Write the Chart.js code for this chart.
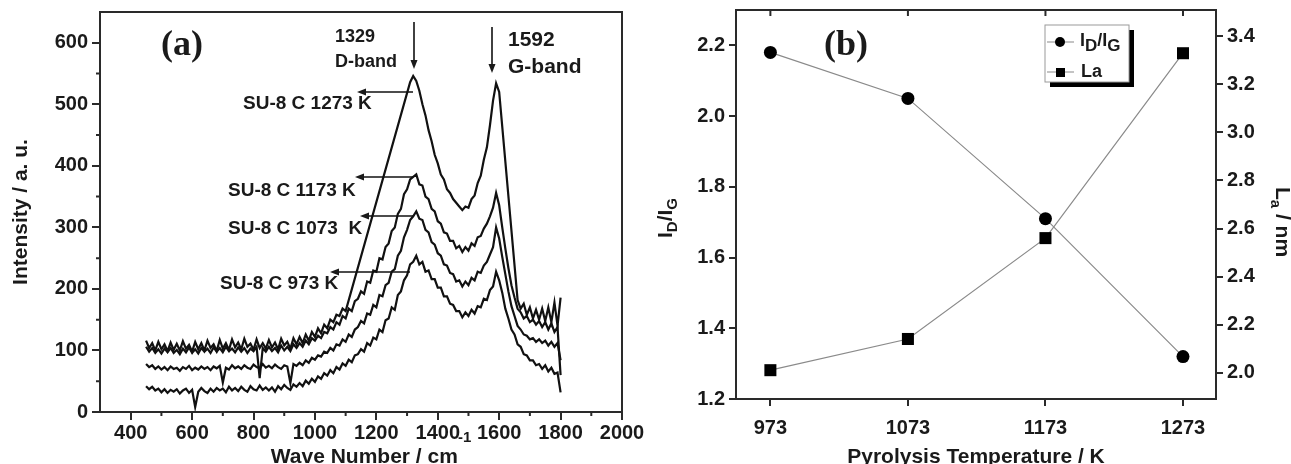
<!DOCTYPE html>
<html>
<head>
<meta charset="utf-8">
<script src="https://cdn.jsdelivr.net/npm/chart.js@4.4.1/dist/chart.umd.min.js"></script>
<style>
  html, body { margin: 0; padding: 0; background: #fff; }
  #wrap { position: relative; width: 1291px; height: 464px; overflow: hidden; }
  canvas { position: absolute; top: 0; }
</style>
</head>
<body>
<div id="wrap">
  <canvas id="chartA" width="670" height="464" style="left:0px"></canvas>
  <canvas id="chartB" width="651" height="464" style="left:640px"></canvas>
</div>
<script>
// ---- panel (a): Raman spectra ----
const waveNumbers = [
  450, 460, 470, 480, 490, 500, 510, 520, 530, 540,
  550, 560, 570, 580, 590, 600, 610, 620, 630, 640,
  650, 660, 670, 680, 690, 700, 710, 720, 730, 740,
  750, 760, 770, 780, 790, 800, 810, 820, 830, 840,
  850, 860, 870, 880, 890, 900, 910, 920, 930, 940,
  950, 960, 970, 980, 990, 1000, 1010, 1020, 1030, 1040,
  1050, 1060, 1070, 1080, 1090, 1100, 1110, 1120, 1130, 1140,
  1150, 1160, 1170, 1180, 1190, 1200, 1210, 1220, 1230, 1240,
  1250, 1260, 1270, 1280, 1290, 1300, 1310, 1320, 1330, 1340,
  1350, 1360, 1370, 1380, 1390, 1400, 1410, 1420, 1430, 1440,
  1450, 1460, 1470, 1480, 1490, 1500, 1510, 1520, 1530, 1540,
  1550, 1560, 1570, 1580, 1590, 1600, 1610, 1620, 1630, 1640,
  1650, 1660, 1670, 1680, 1690, 1700, 1710, 1720, 1730, 1740,
  1750, 1760, 1770, 1780, 1790, 1800,
];

const intensity973 = [
  42, 37, 41, 35, 38, 32, 37, 31, 36, 33,
  37, 30, 35, 38, 31, 36, 8, 33, 39, 34,
  31, 38, 33, 39, 35, 38, 32, 41, 35, 39,
  34, 41, 36, 33, 42, 37, 35, 43, 36, 40,
  35, 40, 33, 42, 37, 44, 39, 36, 45, 41,
  47, 42, 51, 46, 54, 49, 58, 54, 63, 59,
  68, 63, 73, 69, 79, 75, 85, 81, 92, 94,
  102, 98, 112, 108, 121, 118, 134, 130, 149, 152,
  170, 166, 190, 196, 214, 222, 240, 244, 254, 240,
  244, 228, 230, 216, 216, 202, 202, 188, 188, 176,
  174, 164, 164, 154, 162, 156, 166, 160, 172, 170,
  184, 182, 198, 204, 228, 214, 194, 168, 152, 134,
  126, 110, 106, 94, 92, 84, 84, 76, 78, 70,
  76, 66, 72, 62, 64, 32,
];

const intensity1073 = [
  78, 73, 76, 70, 74, 69, 73, 68, 74, 70,
  72, 67, 73, 70, 75, 68, 72, 69, 74, 70,
  73, 68, 74, 71, 75, 48, 72, 69, 76, 71,
  74, 70, 76, 72, 70, 77, 73, 71, 78, 72,
  75, 71, 77, 73, 70, 76, 74, 47, 78, 75,
  80, 76, 84, 80, 88, 85, 92, 90, 98, 96,
  104, 100, 110, 108, 118, 114, 126, 122, 134, 138,
  148, 144, 160, 158, 174, 170, 190, 188, 206, 210,
  228, 232, 254, 262, 284, 296, 312, 318, 326, 314,
  312, 296, 292, 276, 272, 258, 254, 240, 238, 226,
  224, 212, 214, 204, 212, 206, 218, 214, 228, 226,
  238, 244, 256, 268, 300, 282, 252, 224, 196, 172,
  156, 140, 134, 126, 124, 118, 120, 114, 118, 112,
  116, 108, 114, 106, 112, 84,
];

const intensity1173 = [
  106, 98, 104, 96, 102, 95, 103, 97, 104, 96,
  101, 94, 103, 97, 105, 96, 102, 95, 104, 98,
  103, 96, 105, 98, 104, 97, 106, 99, 103, 97,
  105, 98, 104, 96, 103, 99, 106, 55, 104, 98,
  106, 99, 104, 97, 108, 100, 106, 99, 110, 104,
  112, 106, 116, 110, 120, 116, 124, 120, 130, 128,
  138, 134, 146, 142, 156, 152, 168, 164, 180, 184,
  196, 192, 212, 210, 230, 228, 250, 248, 268, 274,
  294, 300, 322, 330, 354, 362, 378, 382, 386, 370,
  368, 350, 346, 330, 326, 310, 306, 292, 290, 278,
  278, 266, 270, 260, 268, 262, 274, 270, 284, 286,
  298, 306, 318, 332, 356, 336, 300, 266, 234, 206,
  186, 168, 162, 152, 156, 146, 150, 142, 148, 138,
  146, 134, 144, 130, 138, 60,
];

// the 1273 K trace is drawn with straight segments on the peak flanks
const intensity1273 = [
  116, 104, 112, 100, 114, 102, 110, 99, 113, 101,
  111, 100, 115, 103, 109, 98, 114, 102, 112, 100,
  116, 104, 110, 99, 117, 103, 112, 101, 118, 105,
  113, 102, 119, 106, 111, 101, 118, 104, 112, 103,
  117, 105, 113, 102, 119, 108, 114, 103, 120, 110,
  122, 112, 126, 116, 130, 122, 136, 128, 142, 136,
  150, 146, 158, 156, 168, 164, null, null, null, null,
  null, null, null, null, null, null, null, null, null, null,
  null, null, null, null, null, null, 536, 546, 538, 522,
  500, 482, 458, 440, 418, 404, 386, 378, 362, 356,
  346, 340, 334, 328, 334, 332, 346, 352, 372, 384,
  410, 430, 466, 506, 534, 520, null, null, null, null,
  null, 182, 168, 176, 158, 170, 152, 166, 150, 168,
  148, 170, 146, 178, 140, 186,
];

const waveTicks = [400, 600, 800, 1000, 1200, 1400, 1600, 1800, 2000];
const waveMinorTicks = [500, 700, 900, 1100, 1300, 1500, 1700, 1900];
const intensityTicks = [0, 100, 200, 300, 400, 500, 600];
const intensityMinorTicks = [50, 150, 250, 350, 450, 550];

// ---- panel (b): ID/IG and La vs pyrolysis temperature ----
const temperatures = [973, 1073, 1173, 1273];
const ratioIDIG = [2.18, 2.05, 1.71, 1.32];
const crystalliteLa = [2.01, 2.14, 2.56, 3.33];
const ratioTicks = [1.2, 1.4, 1.6, 1.8, 2.0, 2.2];
const laTicks = [2.0, 2.2, 2.4, 2.6, 2.8, 3.0, 3.2, 3.4];

const SANS = "'Liberation Sans', Arial, sans-serif";
const SERIF = "'Liberation Serif', 'Times New Roman', serif";
const INK = '#1a1a1a';
const AXIS = '#2a2a2a';

Chart.defaults.font.family = SANS;
Chart.defaults.color = INK;

function toPoints(xs, ys) {
  return xs.map((x, i) => ({ x: x, y: ys[i] }));
}

function fixedTicks(list) {
  return (scale) => {
    scale.ticks = list.map((v) => ({ value: v }));
  };
}

function richText(ctx, parts, x, y, align) {
  let total = 0;
  parts.forEach((p) => {
    ctx.font = p.font;
    p.w = ctx.measureText(p.text).width;
    total += p.w;
  });
  let cx = align === 'center' ? x - total / 2 : x;
  ctx.textAlign = 'left';
  ctx.textBaseline = 'alphabetic';
  parts.forEach((p) => {
    ctx.font = p.font;
    ctx.fillText(p.text, cx, y + (p.dy || 0));
    cx += p.w;
  });
}

function arrow(ctx, x1, y1, x2, y2) {
  const ang = Math.atan2(y2 - y1, x2 - x1);
  const len = 9;
  const half = 3.5;
  ctx.beginPath();
  ctx.moveTo(x1, y1);
  ctx.lineTo(x2 - Math.cos(ang) * len * 0.6, y2 - Math.sin(ang) * len * 0.6);
  ctx.stroke();
  ctx.beginPath();
  ctx.moveTo(x2, y2);
  ctx.lineTo(x2 - Math.cos(ang) * len - Math.sin(ang) * half, y2 - Math.sin(ang) * len + Math.cos(ang) * half);
  ctx.lineTo(x2 - Math.cos(ang) * len + Math.sin(ang) * half, y2 - Math.sin(ang) * len - Math.cos(ang) * half);
  ctx.closePath();
  ctx.fill();
}

function frame(chart) {
  const { ctx, chartArea: { left, top, right, bottom } } = chart;
  ctx.save();
  ctx.strokeStyle = AXIS;
  ctx.lineWidth = 2;
  ctx.strokeRect(left, top, right - left, bottom - top);
  ctx.restore();
}

const spectraDecor = {
  id: 'spectraDecor',
  afterDraw(chart) {
    const { ctx, chartArea: { left, bottom }, scales: { x, y } } = chart;
    frame(chart);
    ctx.save();
    // minor ticks
    ctx.strokeStyle = AXIS;
    ctx.lineWidth = 2;
    ctx.beginPath();
    waveMinorTicks.forEach((v) => {
      const px = x.getPixelForValue(v);
      ctx.moveTo(px, bottom);
      ctx.lineTo(px, bottom + 4);
    });
    intensityMinorTicks.forEach((v) => {
      const py = y.getPixelForValue(v);
      ctx.moveTo(left, py);
      ctx.lineTo(left - 4, py);
    });
    ctx.stroke();

    ctx.fillStyle = INK;
    ctx.strokeStyle = '#111';
    ctx.lineWidth = 1.6;

    // panel letter
    ctx.font = 'bold 36px ' + SERIF;
    ctx.textAlign = 'center';
    ctx.textBaseline = 'middle';
    ctx.fillText('(a)', 182, 46);

    // band labels
    ctx.textAlign = 'left';
    ctx.font = 'bold 18px ' + SANS;
    ctx.fillText('1329', 335, 37);
    ctx.fillText('D-band', 335, 62);
    ctx.font = 'bold 21px ' + SANS;
    ctx.fillText('1592', 508, 40);
    ctx.fillText('G-band', 508, 67);
    arrow(ctx, 414, 22, 414, 69);
    arrow(ctx, 492, 27, 492, 73);

    // sample labels
    ctx.font = 'bold 19px ' + SANS;
    ctx.textBaseline = 'middle';
    ctx.fillText('SU-8 C 1273 K', 243, 104);
    ctx.fillText('SU-8 C 1173 K', 228, 191);
    ctx.fillText('SU-8 C 1073  K', 228, 229);
    ctx.fillText('SU-8 C 973 K', 220, 284);
    ctx.lineWidth = 1.4;
    arrow(ctx, 413, 92, 357, 92);
    arrow(ctx, 413, 177, 355, 177);
    arrow(ctx, 413, 216, 360, 216);
    arrow(ctx, 410, 272, 330, 272);

    // x title with superscript
    richText(ctx, [
      { text: 'Wave Number / cm', font: 'bold 21px ' + SANS },
      { text: '-1', font: 'bold 15px ' + SANS, dy: -21 },
    ], 371, 463, 'center');
    ctx.restore();
  },
};

const spectraFont = { size: 20, weight: 'bold' };

const configA = {
  type: 'line',
  data: {
    datasets: [
      { label: 'SU-8 C 973 K', data: toPoints(waveNumbers, intensity973) },
      { label: 'SU-8 C 1073 K', data: toPoints(waveNumbers, intensity1073) },
      { label: 'SU-8 C 1173 K', data: toPoints(waveNumbers, intensity1173) },
      { label: 'SU-8 C 1273 K', data: toPoints(waveNumbers, intensity1273), spanGaps: true },
    ].map((d) => Object.assign({
      borderColor: '#111',
      borderWidth: 2.2,
      pointRadius: 0,
      tension: 0,
      fill: false,
    }, d)),
  },
  options: {
    responsive: false,
    animation: false,
    events: [],
    layout: { padding: { left: 0, right: 48, top: 12, bottom: 0 } },
    plugins: { legend: { display: false }, tooltip: { enabled: false } },
    scales: {
      x: {
        type: 'linear',
        min: 300,
        max: 2000,
        afterBuildTicks: fixedTicks(waveTicks),
        afterFit(scale) {
          scale.height = 52;
          scale.paddingLeft = 0;
          scale.paddingRight = 0;
        },
        grid: { drawOnChartArea: false, tickLength: 8, color: AXIS, lineWidth: 2 },
        border: { color: AXIS, width: 2 },
        ticks: { font: spectraFont, color: INK, padding: 1, maxRotation: 0, autoSkip: false, callback: (v) => String(v) },
      },
      y: {
        type: 'linear',
        min: 0,
        max: 650,
        afterBuildTicks: fixedTicks(intensityTicks),
        afterFit(scale) {
          scale.width = 100;
          scale.paddingTop = 0;
          scale.paddingBottom = 0;
        },
        grid: { drawOnChartArea: false, tickLength: 8, color: AXIS, lineWidth: 2 },
        border: { color: AXIS, width: 2 },
        ticks: { font: spectraFont, color: INK, padding: 4, autoSkip: false, callback: (v) => String(v) },
        title: {
          display: true,
          text: 'Intensity / a. u.',
          font: { size: 21, weight: 'bold' },
          color: INK,
          padding: { top: 9, bottom: 0 },
        },
      },
    },
  },
  plugins: [spectraDecor],
};

const chartA = new Chart(document.getElementById('chartA'), configA);

// ---- panel (b) decorations ----
const trendDecor = {
  id: 'trendDecor',
  afterDraw(chart) {
    const { ctx, chartArea: { top }, scales: { x } } = chart;
    frame(chart);
    ctx.save();
    // inward ticks on the top border
    ctx.strokeStyle = AXIS;
    ctx.lineWidth = 2;
    ctx.beginPath();
    temperatures.forEach((t) => {
      const px = x.getPixelForValue(t);
      ctx.moveTo(px, top);
      ctx.lineTo(px, top + 6);
    });
    ctx.stroke();

    ctx.fillStyle = INK;
    ctx.font = 'bold 36px ' + SERIF;
    ctx.textAlign = 'center';
    ctx.textBaseline = 'middle';
    ctx.fillText('(b)', 206, 46);

    // left axis title  I_D/I_G
    ctx.save();
    ctx.translate(25, 218);
    ctx.rotate(-Math.PI / 2);
    richText(ctx, [
      { text: 'I', font: 'bold 21px ' + SANS },
      { text: 'D', font: 'bold 15px ' + SANS, dy: 5 },
      { text: '/I', font: 'bold 21px ' + SANS },
      { text: 'G', font: 'bold 15px ' + SANS, dy: 5 },
    ], 0, 7, 'center');
    ctx.restore();

    // right axis title  L_a / nm
    ctx.save();
    ctx.translate(643, 222);
    ctx.rotate(Math.PI / 2);
    richText(ctx, [
      { text: 'L', font: 'bold 21px ' + SANS },
      { text: 'a', font: 'bold 15px ' + SANS, dy: 5 },
      { text: ' / nm', font: 'bold 21px ' + SANS },
    ], 0, 7, 'center');
    ctx.restore();

    // bottom title
    ctx.font = 'bold 21px ' + SANS;
    ctx.textAlign = 'center';
    ctx.textBaseline = 'alphabetic';
    ctx.fillText('Pyrolysis Temperature / K', 336, 463);

    // legend box with drop shadow
    const bx = 405, by = 25, bw = 84, bh = 57;
    ctx.fillStyle = '#000';
    ctx.fillRect(bx + 5, by + 5, bw, bh);
    ctx.fillStyle = '#fff';
    ctx.fillRect(bx, by, bw, bh);
    ctx.strokeStyle = '#9a9a9a';
    ctx.lineWidth = 1;
    ctx.strokeRect(bx, by, bw, bh);

    ctx.strokeStyle = '#8a8a8a';
    ctx.lineWidth = 1.2;
    ctx.beginPath();
    ctx.moveTo(bx + 2, 42);
    ctx.lineTo(bx + 29, 42);
    ctx.moveTo(bx + 2, 72);
    ctx.lineTo(bx + 29, 72);
    ctx.stroke();
    ctx.fillStyle = '#000';
    ctx.beginPath();
    ctx.arc(bx + 15, 42, 5, 0, Math.PI * 2);
    ctx.fill();
    ctx.fillRect(bx + 11, 68, 9, 9);

    ctx.fillStyle = INK;
    richText(ctx, [
      { text: 'I', font: 'bold 18px ' + SANS },
      { text: 'D', font: 'bold 17px ' + SANS, dy: 5 },
      { text: '/I', font: 'bold 18px ' + SANS },
      { text: 'G', font: 'bold 17px ' + SANS, dy: 5 },
    ], bx + 35, 46, 'left');
    ctx.font = 'bold 18px ' + SANS;
    ctx.textBaseline = 'middle';
    ctx.fillText('La', bx + 36, 72);
    ctx.restore();
  },
};

const trendFont = { size: 20, weight: 'bold' };

const configB = {
  type: 'line',
  data: {
    datasets: [
      {
        label: 'ID/IG',
        data: toPoints(temperatures, ratioIDIG),
        yAxisID: 'y',
        pointStyle: 'circle',
        pointRadius: 6.5,
      },
      {
        label: 'La',
        data: toPoints(temperatures, crystalliteLa),
        yAxisID: 'y2',
        pointStyle: 'rect',
        pointRadius: 8.5,
      },
    ].map((d) => Object.assign({
      borderColor: '#8a8a8a',
      borderWidth: 1.2,
      pointBackgroundColor: '#000',
      pointBorderColor: '#000',
      pointBorderWidth: 0,
      tension: 0,
      fill: false,
      clip: false,
    }, d)),
  },
  options: {
    responsive: false,
    animation: false,
    events: [],
    layout: { padding: { left: 0, right: 0, top: 10, bottom: 0 } },
    plugins: { legend: { display: false }, tooltip: { enabled: false } },
    scales: {
      x: {
        type: 'linear',
        min: 948,
        max: 1297,
        afterBuildTicks: fixedTicks(temperatures),
        afterFit(scale) {
          scale.height = 65;
          scale.paddingLeft = 0;
          scale.paddingRight = 0;
        },
        grid: { drawOnChartArea: false, tickLength: 7, color: AXIS, lineWidth: 2 },
        border: { color: AXIS, width: 2 },
        ticks: { font: trendFont, color: INK, padding: 10, maxRotation: 0, autoSkip: false, callback: (v) => String(v) },
      },
      y: {
        type: 'linear',
        position: 'left',
        min: 1.2,
        max: 2.3,
        afterBuildTicks: fixedTicks(ratioTicks),
        afterFit(scale) {
          scale.width = 96;
          scale.paddingTop = 0;
          scale.paddingBottom = 0;
        },
        grid: { drawOnChartArea: false, tickLength: 7, color: AXIS, lineWidth: 2 },
        border: { color: AXIS, width: 2 },
        ticks: { font: trendFont, color: INK, padding: 4, autoSkip: false, callback: (v) => v.toFixed(1) },
      },
      y2: {
        type: 'linear',
        position: 'right',
        min: 1.89,
        max: 3.51,
        afterBuildTicks: fixedTicks(laTicks),
        afterFit(scale) {
          scale.width = 75;
          scale.paddingTop = 0;
          scale.paddingBottom = 0;
        },
        grid: { drawOnChartArea: false, tickLength: 7, color: AXIS, lineWidth: 2 },
        border: { color: AXIS, width: 2 },
        ticks: { font: trendFont, color: INK, padding: 4, autoSkip: false, callback: (v) => v.toFixed(1) },
      },
    },
  },
  plugins: [trendDecor],
};

const chartB = new Chart(document.getElementById('chartB'), configB);
</script>
</body>
</html>
